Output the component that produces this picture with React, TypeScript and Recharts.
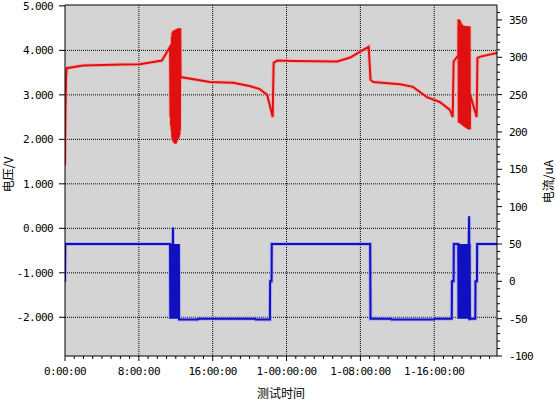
import React from "react";
import {
  LineChart,
  Line,
  XAxis,
  YAxis,
  CartesianGrid,
  ReferenceLine,
} from "recharts";

// 测试时间 (hours) / 电压 (V)
const voltagePoints: [number, number][] = [
  [0, 1.42], [0.05, 2.65], [0.12, 3.4], [0.18, 3.6], [1.95, 3.66], [6.3, 3.68],
  [8.1, 3.69], [10.5, 3.77], [11.06, 3.97], [11.38, 4.08],
  // 第一段振荡
  [11.43, 2.5], [11.46, 3.9], [11.49, 2.3], [11.52, 4.1], [11.55, 2.2], [11.58, 4.3],
  [11.61, 2.05], [11.64, 4.4], [11.67, 2.0], [11.7, 4.42], [11.73, 1.96], [11.76, 4.45],
  [11.79, 1.94], [11.82, 4.38], [11.85, 1.92], [11.88, 4.44], [11.91, 1.9], [11.94, 4.3],
  [11.97, 1.9], [12.0, 4.46], [12.03, 1.92], [12.06, 4.48], [12.09, 1.95], [12.12, 4.4],
  [12.15, 1.98], [12.18, 4.45], [12.21, 2.0], [12.24, 4.5], [12.27, 2.02], [12.3, 4.48],
  [12.33, 2.05], [12.36, 4.5], [12.39, 2.1], [12.42, 4.5], [12.45, 2.2], [12.48, 4.5],
  [12.52, 3.4],
  [15.7, 3.29], [18.2, 3.27], [20.0, 3.2], [21.1, 3.13], [21.9, 3.0], [22.5, 2.5],
  [22.6, 3.72], [23.0, 3.77], [24.7, 3.76], [29.5, 3.75], [30.9, 3.84],
  [32.3, 4.01], [32.9, 4.08], [33.1, 3.34], [33.4, 3.29], [36.3, 3.24],
  [37.7, 3.18], [39.2, 2.95], [40.6, 2.84], [41.7, 2.66], [42.0, 2.5],
  [42.1, 3.75], [42.5, 3.86],
  // 第二段振荡
  [42.6, 3.86], [42.63, 4.7], [42.66, 2.38], [42.69, 4.69], [42.72, 2.37], [42.75, 4.68],
  [42.78, 2.36], [42.81, 4.66], [42.84, 2.36], [42.87, 4.62], [42.9, 2.35], [42.93, 4.6],
  [42.96, 2.34], [42.99, 4.58], [43.02, 2.33], [43.05, 4.56], [43.08, 2.32], [43.11, 4.56],
  [43.14, 2.31], [43.17, 4.56], [43.2, 2.3], [43.23, 4.55], [43.26, 2.29], [43.29, 4.55],
  [43.32, 2.28], [43.35, 4.55], [43.38, 2.27], [43.41, 4.55], [43.44, 2.26], [43.47, 4.55],
  [43.5, 2.26], [43.53, 4.55], [43.56, 2.25], [43.59, 4.54], [43.62, 2.24], [43.65, 4.54],
  [43.68, 2.23], [43.71, 4.54], [43.74, 2.22], [43.77, 4.54], [43.8, 2.22], [43.83, 4.54],
  [43.86, 2.22], [43.9, 3.0],
  [44.6, 2.5], [44.68, 3.83], [45.0, 3.86], [46.8, 3.94],
];

// 测试时间 (hours) / 电流 (uA)
const currentPoints: [number, number][] = [
  [0, -1], [0.03, 50], [11.38, 50],
  [11.41, -50], [11.44, 50], [11.47, -50], [11.5, 50], [11.53, -50], [11.56, 50],
  [11.59, -50], [11.62, 50], [11.65, -50], [11.68, 50], [11.7, 72], [11.72, -50],
  [11.75, 50], [11.78, -50], [11.81, 50], [11.84, -50], [11.87, 50], [11.9, -50],
  [11.93, 50], [11.96, -50], [11.99, 50], [12.02, -50], [12.05, 50], [12.08, -50],
  [12.11, 50], [12.14, -50], [12.17, 50], [12.2, -50], [12.23, 50], [12.26, -50],
  [12.29, 50], [12.32, -50], [12.34, 50], [12.36, -51],
  [14.4, -51], [14.45, -50], [20.6, -50], [20.65, -51], [22.2, -51],
  [22.22, 0], [22.38, 0], [22.4, 50], [33.06, 50], [33.1, -50], [35.3, -50],
  [35.35, -51], [40.0, -51], [40.05, -50], [41.9, -50], [41.92, 0], [42.1, 0],
  [42.12, 50], [42.6, 50],
  [42.63, -50], [42.66, 50], [42.69, -50], [42.72, 50], [42.75, -50], [42.78, 50],
  [42.81, -50], [42.84, 50], [42.87, -50], [42.9, 50], [42.93, -50], [42.96, 50],
  [42.99, -50], [43.02, 50], [43.05, -50], [43.08, 50], [43.11, -50], [43.14, 50],
  [43.17, -50], [43.2, 50], [43.23, -50], [43.26, 50], [43.29, -50], [43.32, 50],
  [43.35, -50], [43.38, 50], [43.41, -50], [43.44, 50], [43.47, -50], [43.5, 50],
  [43.53, -50], [43.56, 50], [43.59, -50], [43.62, 50], [43.65, -50], [43.68, 50],
  [43.71, -50], [43.74, 50], [43.78, 87], [43.81, -52], [43.84, 50], [43.87, -50],
  [43.9, -50],
  [44.45, -50], [44.47, 0], [44.63, 0], [44.65, 50], [46.8, 50],
];

const majorHours = [0, 8, 16, 24, 32, 40];
const majorLabels = ["0:00:00", "8:00:00", "16:00:00", "1-00:00:00", "1-08:00:00", "1-16:00:00"];
const voltageTicks = [-2, -1, 0, 1, 2, 3, 4, 5];
const currentMajor = [-100, -50, 0, 50, 100, 150, 200, 250, 300, 350];

const X_MAX = 46.8;
const V_DOMAIN: [number, number] = [-2.87, 5.02];
const I_DOMAIN: [number, number] = [-100, 370];

const hourTicks = Array.from({ length: 47 }, (_, i) => i);
const currentTicks = Array.from({ length: 47 }, (_, i) => -100 + i * 10);

const voltageData = voltagePoints.map(([h, v]) => ({ h, v }));
const currentData = currentPoints.map(([h, i]) => ({ h, i }));

const TICK_FONT = {
  fontFamily: "'DejaVu Sans Mono', monospace",
  fontSize: 11,
  letterSpacing: -0.6,
  fill: "#000",
};
const TITLE_FONT = {
  fontFamily: "'Noto Sans CJK SC', sans-serif",
  fontSize: 12,
  fill: "#000",
};

function XTick(props: any) {
  const { x, y, payload } = props;
  const idx = majorHours.indexOf(payload.value);
  const major = idx >= 0;
  return (
    <g>
      <line x1={x} x2={x} y1={y} y2={y + (major ? 5 : 3)} stroke="#000" />
      {major && (
        <text x={x} y={y + 19} textAnchor="middle" {...TICK_FONT}>
          {majorLabels[idx]}
        </text>
      )}
    </g>
  );
}

function LeftTick(props: any) {
  const { x, y, payload } = props;
  return (
    <g>
      <line x1={x - 6} x2={x} y1={y} y2={y} stroke="#000" />
      <text x={x - 12} y={y + 4} textAnchor="end" {...TICK_FONT}>
        {payload.value.toFixed(3)}
      </text>
    </g>
  );
}

function RightTick(props: any) {
  const { x, y, payload } = props;
  const major = currentMajor.includes(payload.value);
  return (
    <g>
      <line x1={x} x2={x + (major ? 5 : 3)} y1={y} y2={y} stroke="#000" />
      {major && (
        <text x={x + 12} y={y + 4} textAnchor="start" {...TICK_FONT}>
          {payload.value}
        </text>
      )}
    </g>
  );
}

function LeftTitle(props: any) {
  const { viewBox } = props;
  const cx = viewBox.x + 7;
  const cy = viewBox.y + viewBox.height / 2 - 6;
  return (
    <text x={cx} y={cy} transform={`rotate(-90 ${cx} ${cy})`} textAnchor="middle" dominantBaseline="central" {...TITLE_FONT}>
      电压/V
    </text>
  );
}

function RightTitle(props: any) {
  const { viewBox } = props;
  const cx = viewBox.x + viewBox.width - 9;
  const cy = viewBox.y + viewBox.height / 2 + 1;
  return (
    <text x={cx} y={cy} transform={`rotate(-90 ${cx} ${cy})`} textAnchor="middle" dominantBaseline="central" {...TITLE_FONT}>
      电流/uA
    </text>
  );
}

function BottomTitle(props: any) {
  const { viewBox } = props;
  return (
    <text x={viewBox.x + viewBox.width / 2} y={viewBox.y + 42} textAnchor="middle" {...TITLE_FONT}>
      测试时间
    </text>
  );
}

export default function App() {
  return (
    <div style={{ position: "absolute", left: 0, top: 0, width: 556, height: 401, background: "#fff" }}>
      <LineChart width={556} height={401} margin={{ top: 5, right: 0, bottom: 0, left: 0 }}>
        <CartesianGrid yAxisId="v" horizontal={false} vertical={false} fill="#d4d4d4" fillOpacity={1} />
        <XAxis
          dataKey="h"
          type="number"
          domain={[0, X_MAX]}
          ticks={hourTicks}
          interval={0}
          allowDataOverflow
          height={45}
          tickSize={0}
          tickMargin={0}
          tickLine={false}
          tick={<XTick />}
          axisLine={{ stroke: "#000" }}
          label={{ content: <BottomTitle /> }}
        />
        <YAxis
          yAxisId="v"
          orientation="left"
          domain={V_DOMAIN}
          ticks={voltageTicks}
          interval={0}
          allowDataOverflow
          width={65}
          tickSize={0}
          tickMargin={0}
          tickLine={false}
          tick={<LeftTick />}
          axisLine={{ stroke: "#000" }}
          label={{ content: <LeftTitle /> }}
        />
        <YAxis
          yAxisId="i"
          orientation="right"
          domain={I_DOMAIN}
          ticks={currentTicks}
          interval={0}
          allowDataOverflow
          width={59}
          tickSize={0}
          tickMargin={0}
          tickLine={false}
          tick={<RightTick />}
          axisLine={{ stroke: "#000" }}
          label={{ content: <RightTitle /> }}
        />
        {majorHours.slice(1).map((h) => (
          <ReferenceLine key={`x${h}`} x={h} yAxisId="v" stroke="#000" strokeDasharray="1 1" />
        ))}
        {voltageTicks.slice(0, -1).map((v) => (
          <ReferenceLine key={`y${v}`} y={v} yAxisId="v" stroke="#000" strokeDasharray="1 1" />
        ))}
        <ReferenceLine y={V_DOMAIN[1]} yAxisId="v" stroke="#000" />
        <Line data={voltageData} dataKey="v" yAxisId="v" type="linear" stroke="#ff9a9a" strokeOpacity={0.6} strokeWidth={4} dot={false} activeDot={false} isAnimationActive={false} />
        <Line data={voltageData} dataKey="v" yAxisId="v" type="linear" stroke="#e01010" strokeWidth={2} dot={false} activeDot={false} isAnimationActive={false} />
        <Line data={currentData} dataKey="i" yAxisId="i" type="linear" stroke="#9a9aff" strokeOpacity={0.6} strokeWidth={4} dot={false} activeDot={false} isAnimationActive={false} />
        <Line data={currentData} dataKey="i" yAxisId="i" type="linear" stroke="#1010c0" strokeWidth={2} dot={false} activeDot={false} isAnimationActive={false} />
      </LineChart>
    </div>
  );
}
